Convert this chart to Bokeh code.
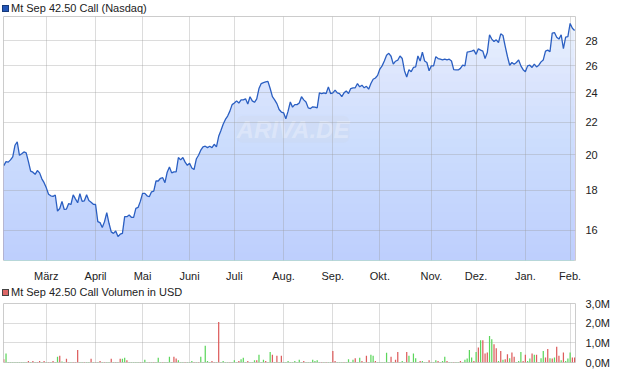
import numpy as np
from bokeh.plotting import figure
from bokeh.layouts import column
from bokeh.models import (Range1d, FixedTicker, PrintfTickFormatter, Label,
                          ColumnDataSource, Div)
from bokeh.embed import file_html
from bokeh.resources import INLINE

# ---------------- data ----------------
price = [
    19.36, 19.59, 19.56, 19.69, 19.87, 20.56, 20.76, 19.96, 20.05, 20.16,
    20.10, 19.59, 19.05, 18.99, 18.87, 19.08, 18.95, 18.62, 18.41, 18.13,
    17.79, 17.71, 17.68, 17.75, 16.93, 17.06, 17.42, 17.01, 17.03, 17.31,
    17.26, 17.76, 17.55, 17.35, 17.82, 17.42, 17.45, 17.76, 17.47, 17.38,
    17.27, 17.26, 16.41, 16.36, 16.13, 16.41, 16.85, 16.33, 15.92, 15.85,
    15.96, 15.70, 15.81, 15.85, 16.65, 16.65, 16.73, 16.62, 16.62, 17.06,
    17.11, 17.42, 17.84, 17.84, 17.71, 17.66, 17.92, 17.96, 18.50, 18.50,
    18.65, 18.68, 18.41, 18.99, 19.28, 18.95, 19.01, 19.01, 19.83, 19.69,
    19.83, 19.56, 19.38, 19.50, 19.23, 19.14, 19.74, 19.96, 20.26, 20.46,
    20.50, 20.42, 20.50, 20.42, 20.62, 20.46, 21.11, 21.47, 21.87, 22.19,
    22.41, 22.74, 23.18, 23.29, 23.44, 23.29, 23.51, 23.51, 23.58, 23.22,
    23.73, 23.44, 23.34, 23.58, 24.31, 24.67, 24.74, 24.79, 24.83, 24.31,
    23.73, 23.51, 23.25, 22.85, 22.68, 22.63, 22.23, 22.74, 23.36, 23.01,
    23.18, 23.18, 23.29, 23.73, 23.51, 23.36, 22.96, 22.91, 23.03, 23.01,
    22.96, 24.00, 23.95, 24.00, 23.95, 24.43, 23.95, 24.00, 24.19, 24.00,
    23.95, 23.74, 24.00, 24.14, 23.95, 24.31, 24.36, 24.36, 24.67, 24.43,
    24.55, 24.36, 24.47, 24.26, 24.67, 24.98, 25.08, 25.27, 25.75, 25.99,
    26.37, 26.82, 26.97, 26.74, 26.12, 26.35, 26.43, 26.76, 26.56, 25.62,
    25.15, 25.70, 25.55, 25.87, 25.91, 26.76, 26.37, 27.07, 26.37, 26.25,
    25.62, 25.99, 25.99, 26.71, 26.56, 26.51, 26.45, 26.51, 26.45, 26.51,
    26.37, 25.70, 25.68, 25.68, 25.80, 26.04, 25.99, 27.07, 27.10, 27.15,
    27.23, 26.89, 27.34, 27.23, 27.15, 26.56, 27.03, 28.49, 28.13, 27.93,
    28.07, 27.85, 28.57, 28.43, 27.54, 26.72, 26.04, 26.25, 26.12, 26.25,
    26.45, 25.99, 25.70, 25.55, 25.99, 26.04, 25.87, 26.12, 25.91, 26.04,
    26.30, 26.45, 27.15, 27.23, 27.11, 28.63, 28.68, 28.29, 28.13, 28.49,
    27.34, 28.29, 28.34, 29.46, 29.05, 28.85,
]

# volume in million USD, one per trading day
volume_m = [
    .17, .46, .03, .03, .03, .03, .03, .03, .03, .03, .03, .08, .03, .08, .03, .03,
    .07, .03, .08, .03, .03, .03, .08, .03, .29, .34, .05, .03, .19, .03, .03, .03,
    .03, .64, .03, .03, .03, .03, .03, .19, .03, .03, .03, .07, .03, .03, .03, .03,
    .19, .03, .03, .03, .19, .19, .24, .12, .03, .03, .03, .03, .03, .03, .03, .14,
    .03, .03, .03, .03, .03, .24, .03, .03, .03, .03, .29, .03, .29, .20, .12, .03,
    .03, .03, .03, .03, .08, .03, .03, .03, .29, .03, .85, .08, .03, .08, .03, .03,
    2.06, .03, .08, .03, .03, .03, .03, .12, .03, .08, .17, .24, .03, .08, .03, .03,
    .12, .12, .39, .03, .14, .08, .03, .54, .39, .03, .34, .03, .34, .03, .03, .08,
    .03, .03, .08, .03, .14, .03, .08, .03, .03, .03, .14, .08, .12, .03, .03, .03,
    .03, .03, .03, .59, .08, .03, .03, .03, .03, .03, .17, .03, .14, .22, .03, .24,
    .08, .03, .34, .03, .39, .34, .08, .03, .03, .03, .03, .49, .03, .29, .03, .14,
    .54, .03, .08, .03, .54, .34, .03, .46, .22, .03, .08, .08, .03, .03, .12, .03,
    .03, .12, .08, .03, .08, .29, .08, .03, .03, .03, .03, .03, .08, .03, .14, .20,
    .63, .25, .08, .54, .76, 1.13, 1.13, .46, .51, 1.35, 1.18, .93, .73, .08, .59, .14,
    .17, .42, .22, .51, .29, .03, .08, .54, .08, .39, .08, .20, .46, .39, .39, .03,
    .22, .59, .25, .69, .22, .20, .25, .80, .34, .12, .51, .08, .20, .51, .25, .25,
]

# g = up day (green), r = down day (red)
volume_dir = (
    "rggggggggggrgrgr" "rgrgrgrggrggrrgr" "rrggrggrgrgrgrgg" "rgrgrggrgggggrgg"
    "grgrgggrggggrrgg" "grgggrgrgggggrrg" "rggggrgggrgggrgg" "grgggrggrgrgrggg"
    "ggggggrgggggggrg" "rggrrgggrggggrgg" "rgrgggrggggggrgr" "rgggrgggggrgggrg"
    "ggrgggrggrggrggg" "ggrgrgrrrggrrgrg" "rrgrrgggrrggrgrg" "ggrrgrgrrgrgggrr"
)

month_idx = [19, 41, 62, 83, 103, 125, 147, 168, 191, 211, 233, 253]
month_names = ["März", "April", "Mai", "Juni", "Juli", "Aug.", "Sep.", "Okt.",
               "Nov.", "Dez.", "Jan.", "Feb."]
price_ticks = [16, 18, 20, 22, 24, 26, 28]
volume_ticks = [0, 1, 2, 3]
volume_labels = ["0,0M", "1,0M", "2,0M", "3,0M"]

title_price = "Mt Sep 42.50 Call (Nasdaq)"
title_volume = "Mt Sep 42.50 Call Volumen in USD"

# ---------------- style ----------------
FONT = "Liberation Sans"
TXT = "#222222"
Y_LO, Y_HI = 14.63, 30.07

n = len(price)
days = list(range(n))
xr = Range1d(-0.13, 255.4)


def style_axes(p):
    for ax in p.axis:
        ax.axis_line_color = None
        ax.major_tick_line_color = None
        ax.minor_tick_line_color = None
        ax.major_label_text_font = FONT
        ax.major_label_text_font_size = "11px"
        ax.major_label_text_color = TXT
    p.outline_line_color = "#cccccc"
    p.grid.grid_line_color = "#9a9a9a"
    p.grid.grid_line_alpha = 0.35
    p.background_fill_color = "white"


def legend_div(label, fill, line, height, pad_top):
    html = (
        f'<div style="padding-top:{pad_top}px;line-height:12px;'
        f'font-family:\'{FONT}\';font-size:11px;color:{TXT};white-space:nowrap;">'
        f'<span style="display:inline-block;box-sizing:content-box;width:5px;height:5px;'
        f'background:{fill};border:1px solid {line};margin:0 2px 0 2px;'
        f'vertical-align:0px;"></span>{label}</div>'
    )
    return Div(text=html, width=612, height=height,
               styles={"margin": "0", "padding": "0", "overflow": "visible"})


# ---------------- price chart ----------------
p1 = figure(width=612, height=268, x_range=xr, y_range=Range1d(Y_LO, Y_HI),
            y_axis_type="log", y_axis_location="right",
            output_backend="svg", toolbar_location=None,
            min_border_left=3, min_border_right=34,
            min_border_top=0, min_border_bottom=18)

price_arr = np.array(price)
p1.varea(x=days, y1=Y_LO, y2=price, fill_color="#f0f5fd", level="image")
levels = np.geomspace(Y_LO, Y_HI, 31)[1:]
for lv in levels:
    p1.varea(x=days, y1=Y_LO, y2=np.minimum(price_arr, lv),
             fill_color="#afcaf4", fill_alpha=0.04, level="image")

p1.add_layout(Label(x=129.2, y=21.56, text="ARIVA.DE", text_align="center",
                    text_baseline="middle", text_font=FONT,
                    text_font_size="24px", text_font_style="bold italic",
                    text_color="white", text_alpha=0.3,
                    background_fill_color="#cdd4de", background_fill_alpha=0.18,
                    border_radius=6, level="image"))

p1.line(days, price, line_color="#2b5fc2", line_width=1.3)

p1.xaxis.ticker = FixedTicker(ticks=month_idx)
p1.xaxis.major_label_overrides = {i: m for i, m in zip(month_idx, month_names)}
p1.xaxis.major_label_standoff = 3
p1.xgrid.ticker = FixedTicker(ticks=month_idx)
p1.yaxis.ticker = FixedTicker(ticks=price_ticks)
p1.yaxis.formatter = PrintfTickFormatter(format="%d")
p1.yaxis.major_label_standoff = 4
p1.ygrid.ticker = FixedTicker(ticks=price_ticks)
style_axes(p1)

# ---------------- volume chart ----------------
p2 = figure(width=612, height=75, x_range=xr, y_range=Range1d(0, 3),
            y_axis_location="right",
            output_backend="svg", toolbar_location=None,
            min_border_left=3, min_border_right=34,
            min_border_top=7, min_border_bottom=9)
p2.border_fill_alpha = 0

vcolors = ["#5cd65c" if d == "g" else "#dd5c5c" for d in volume_dir]
src = ColumnDataSource(dict(x=days, top=volume_m, c=vcolors))
p2.vbar(x="x", top="top", width=0.55, fill_color="c", line_color=None, source=src)

p2.xaxis.visible = False
p2.xgrid.ticker = FixedTicker(ticks=month_idx)
p2.yaxis.ticker = FixedTicker(ticks=volume_ticks)
p2.yaxis.major_label_overrides = {t: l for t, l in zip(volume_ticks, volume_labels)}
p2.yaxis.major_label_standoff = 4
p2.ygrid.ticker = FixedTicker(ticks=volume_ticks)
style_axes(p2)

d1 = legend_div(title_price, "#2356b8", "#163a7a", 16, 1)
d2 = legend_div(title_volume, "#dd6666", "#444444", 12, 2)

layout = column(d1, p1, d2, p2, spacing=0)

open("out.html", "w").write(file_html(layout, INLINE))
